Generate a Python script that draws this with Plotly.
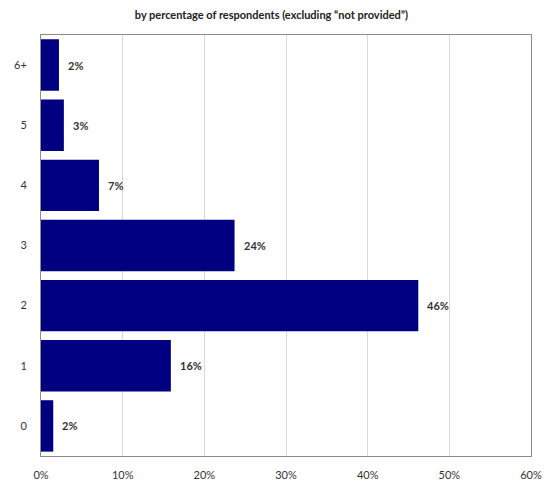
import plotly.graph_objects as go

# Number of items per respondent, share of respondents
categories = ["0", "1", "2", "3", "4", "5", "6+"]
shares = [0.015, 0.159, 0.462, 0.237, 0.071, 0.028, 0.022]
x_ticks = [0, 0.1, 0.2, 0.3, 0.4, 0.5, 0.6]
x_tick_labels = ["0%", "10%", "20%", "30%", "40%", "50%", "60%"]

bar_color = "#000080"
font_family = "Lato, 'Open Sans', sans-serif"

fig = go.Figure(
    go.Bar(
        x=shares,
        y=categories,
        orientation="h",
        marker=dict(color=bar_color, line=dict(width=0)),
        hoverinfo="skip",
    )
)

# value labels to the right of each bar
for cat, val in zip(categories, shares):
    fig.add_annotation(
        x=val, y=cat, text=f"<b>{val:.0%}</b>",
        xanchor="left", xshift=7, showarrow=False,
        font=dict(family=font_family, size=11, color="#333333"),
    )

fig.update_layout(
    width=554, height=493,
    margin=dict(l=41, r=16, t=35, b=25),
    paper_bgcolor="white", plot_bgcolor="white",
    bargap=0.145,
    showlegend=False,
    title=dict(
        text="<b>by percentage of respondents (excluding \u201cnot provided\u201d)</b>",
        x=0.49, xanchor="center", y=0.97, yanchor="middle",
        font=dict(family=font_family, size=11, color="#222222"),
    ),
    xaxis=dict(
        range=[0, 0.6], tickvals=x_ticks, ticktext=x_tick_labels,
        showgrid=True, gridcolor="#d9d9d9", gridwidth=1,
        showline=True, linecolor="#8c8c8c", linewidth=1, mirror=True,
        ticks="", zeroline=False,
        tickfont=dict(family=font_family, size=11, color="#333333"),
        ticklabelstandoff=9,
    ),
    yaxis=dict(
        categoryorder="array", categoryarray=categories,
        showgrid=False, showline=True, linecolor="#8c8c8c", linewidth=1, mirror=True,
        ticks="", zeroline=False,
        tickfont=dict(family=font_family, size=11, color="#333333"),
        ticklabelstandoff=11,
    ),
)

fig.write_html("out.html")
